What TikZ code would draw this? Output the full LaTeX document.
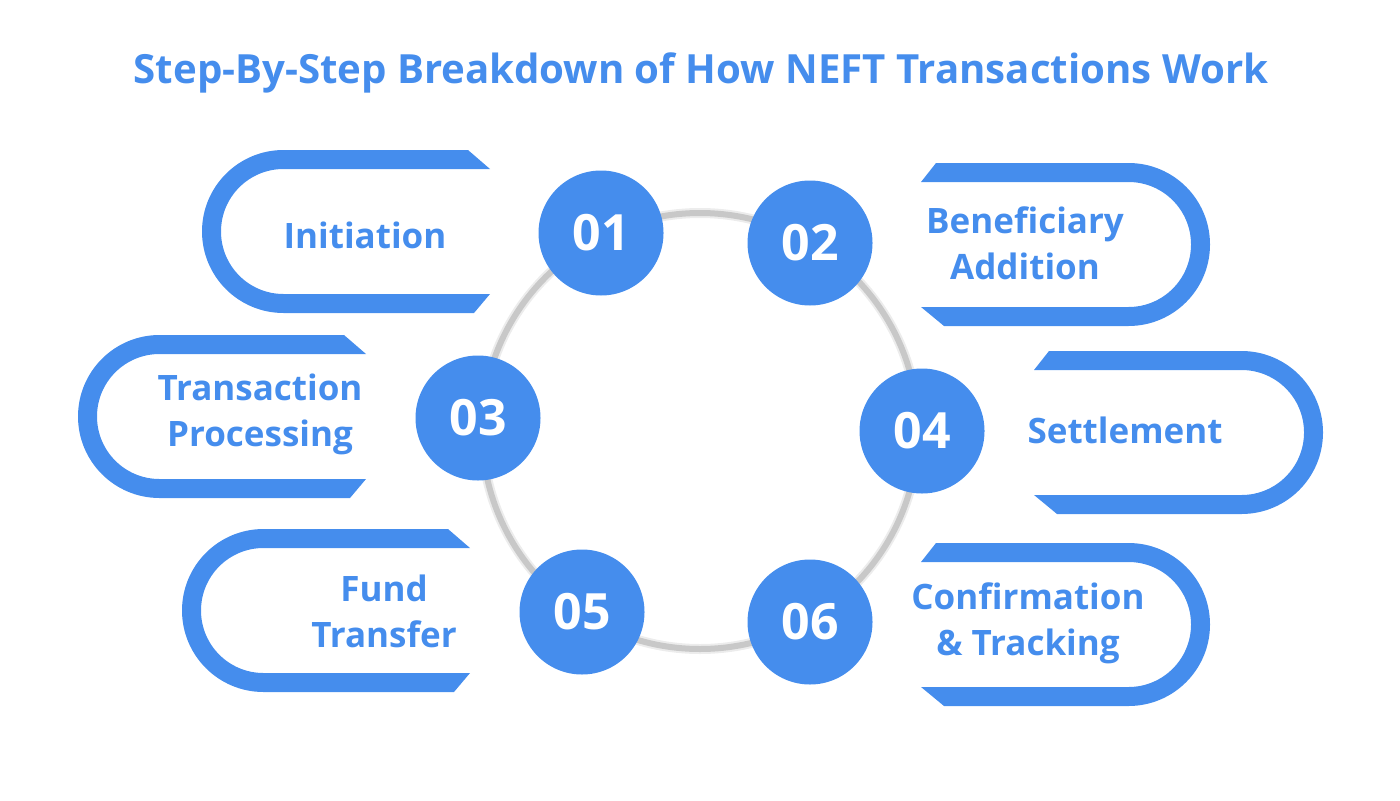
\documentclass[tikz,border=0pt]{standalone}
\usepackage{fontspec}
\setmainfont{Open Sans}
\usepackage{xcolor}
\definecolor{Brand}{HTML}{458DED}
\definecolor{Ring}{HTML}{C8C8C8}
\definecolor{RingSoft}{HTML}{ECECEC}
\usetikzlibrary{calc}
\tikzset{
  bracketfill/.style={fill=Brand,draw=none},
  numdot/.style={circle,fill=Brand,minimum size=62.5pt,inner sep=0pt,
    text=white,font=\bfseries\fontsize{25}{25}\selectfont},
  steplabel/.style={text=Brand,align=center,font=\bfseries\fontsize{17.5}{23}\selectfont,inner sep=0pt},
  titletext/.style={text=Brand,font=\bfseries\fontsize{20.1}{24}\selectfont,inner sep=0pt}
}
% left-open and right-open brackets: centre of the round end (x,y), tip x
\newcommand{\leftbracket}[3]{%
  \fill[bracketfill] ({#3-22},{#2+81.5}) -- ({#1},{#2+81.5})
    arc[start angle=90,end angle=270,radius=81.5] -- ({#3-16},{#2-81.5})
    -- ({#3},{#2-62.5}) -- ({#1},{#2-62.5})
    arc[start angle=270,end angle=90,radius=62.5] -- ({#3},{#2+62.5}) -- cycle;}
\newcommand{\rightbracket}[3]{%
  \fill[bracketfill] ({#3+15},{#2+81.5}) -- ({#1},{#2+81.5})
    arc[start angle=90,end angle=-90,radius=81.5] -- ({#3+23},{#2-81.5})
    -- ({#3},{#2-62.5}) -- ({#1},{#2-62.5})
    arc[start angle=-90,end angle=90,radius=62.5] -- ({#3},{#2+62.5}) -- cycle;}

\begin{document}
\begin{tikzpicture}[x=0.5pt,y=0.5pt]
  \useasboundingbox (0,0) rectangle (1400,800);
  \node[titletext] (title) at (701,727) {Step-By-Step Breakdown of How NEFT Transactions Work};

  % ring
  \draw[RingSoft,line width=5pt] (700,369) circle[radius=218];
  \draw[Ring,line width=3pt] (700,369) circle[radius=218];

  % brackets
  \leftbracket{283.5}{568.5}{490}
  \leftbracket{159.5}{383.5}{366}
  \leftbracket{263.5}{189.5}{470}
  \rightbracket{1128.5}{555.5}{921}
  \rightbracket{1241.5}{367.5}{1034}
  \rightbracket{1128.5}{175.5}{921}

  % labels
  \node[steplabel] (l1) at (365,565) {Initiation};
  \node[steplabel] (l3) at (260,386) {Transaction\\Processing};
  \node[steplabel] (l5) at (384,189) {Fund\\Transfer};
  \node[steplabel] (l2) at (1025,557) {Beneficiary\\Addition};
  \node[steplabel] (l4) at (1125,370) {Settlement};
  \node[steplabel] (l6) at (1028,177) {Confirmation\\\& Tracking};

  % numbers
  \node[numdot] (n1) at (601,567) {01};
  \node[numdot] (n2) at (810,557) {02};
  \node[numdot] (n3) at (478,382) {03};
  \node[numdot] (n4) at (922,369) {04};
  \node[numdot] (n5) at (582,188) {05};
  \node[numdot] (n6) at (810,178) {06};
\end{tikzpicture}
\end{document}
